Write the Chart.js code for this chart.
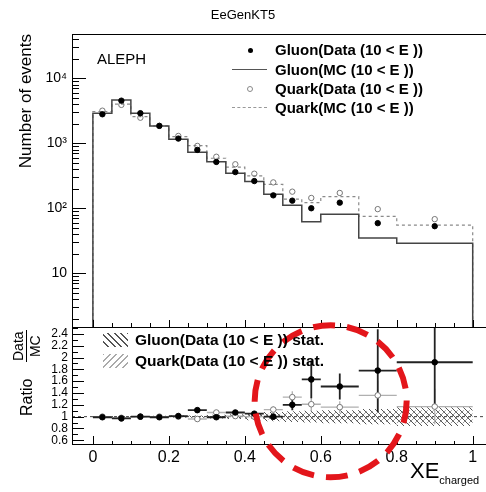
<!DOCTYPE html>
<html>
<head>
<meta charset="utf-8">
<script src="https://cdn.jsdelivr.net/npm/chart.js@4.4.0/dist/chart.umd.min.js"></script>
<style>
  body { margin:0; width:486px; height:492px; background:#fff; position:relative; overflow:hidden;
         font-family:"Liberation Sans", Arial, sans-serif; color:#000; }
  canvas { position:absolute; left:0; }
  #top { top:0; }
  #ratio { top:316px; }
  .t { position:absolute; white-space:nowrap; }
  .leg { position:absolute; left:275px; font-weight:bold; font-size:15px; line-height:18px; white-space:nowrap; }
  .rleg { position:absolute; left:135px; font-weight:bold; font-size:15.5px; line-height:18px; white-space:nowrap; }
  .rot { position:absolute; transform-origin:0 0; transform:rotate(-90deg); white-space:nowrap; }
</style>
</head>
<body>
<canvas id="top" width="486" height="330"></canvas>
<canvas id="ratio" width="486" height="176"></canvas>

<div class="t" style="left:0;width:486px;top:7px;text-align:center;font-size:13px;">EeGenKT5</div>
<div class="t" style="left:97px;top:50px;font-size:15px;">ALEPH</div>
<div class="rot" style="left:16px;top:234px;width:200px;text-align:right;font-size:17px;line-height:20px;">Number of events</div>

<!-- legend, upper panel -->
<div class="t" style="left:247.5px;top:47.5px;width:5px;height:5px;border-radius:50%;background:#000;"></div>
<div class="leg" style="top:41px;">Gluon(Data (10 &lt; E ))</div>
<div class="t" style="left:232px;top:69px;width:35px;border-top:1.5px solid #555;"></div>
<div class="leg" style="top:60.5px;">Gluon(MC (10 &lt; E ))</div>
<div class="t" style="left:247px;top:86px;width:4px;height:4px;border-radius:50%;border:1px solid #888;"></div>
<div class="leg" style="top:79.5px;">Quark(Data (10 &lt; E ))</div>
<div class="t" style="left:232px;top:107px;width:35px;border-top:1px dashed #999;"></div>
<div class="leg" style="top:98.5px;">Quark(MC (10 &lt; E ))</div>

<!-- legend, ratio panel -->
<div class="t" style="left:103px;top:333px;width:25px;height:14px;background:repeating-linear-gradient(45deg, transparent 0 3.5px, #555 3.5px 4.6px);"></div>
<div class="rleg" style="top:331px;">Gluon(Data (10 &lt; E )) stat.</div>
<div class="t" style="left:103px;top:354px;width:25px;height:14px;background:repeating-linear-gradient(-45deg, transparent 0 3.5px, #aaa 3.5px 4.6px);"></div>
<div class="rleg" style="top:352px;">Quark(Data (10 &lt; E )) stat.</div>

<div class="rot" style="left:19px;top:416px;font-size:16px;line-height:16px;">Ratio</div>
<div class="rot" style="left:11px;top:362px;font-size:14px;line-height:14px;text-align:center;">
  <div style="border-bottom:1px solid #000;padding:0 1px 1px 1px;">Data</div><div style="padding-top:1px;">MC</div>
</div>
<div class="t" style="left:410px;top:460px;font-size:22px;line-height:22px;">XE<span style="font-size:11px;position:relative;top:6px;">charged</span></div>

<script>
// bins and values
const binEdges = [0, 0.05, 0.1, 0.15, 0.2, 0.25, 0.3, 0.35, 0.4, 0.45, 0.5, 0.55, 0.6, 0.7, 0.8, 1.0];
const gluonData = [2790, 4520, 2900, 1850, 1180, 790, 516, 360, 262, 158, 131, 100, 122, 59, 53];
const gluonMC   = [2900, 4640, 2900, 1850, 1150, 727, 520, 345, 257, 164, 111, 62, 81, 35, 29];
const quarkData = [3170, 3890, 2470, 1850, 1295, 910, 620, 475, 340, 250, 180, 144, 172, 97, 68];
const quarkMC   = [3080, 4000, 2570, 1850, 1260, 920, 588, 428, 315, 233, 138, 122, 151, 75, 55];

const gluonRatio    = [0.99, 0.97, 1.0, 0.99, 1.01, 1.11, 0.99, 1.07, 1.05, 1.0, 1.2, 1.63, 1.51, 1.78, 1.92];
const gluonRatioErr = [0.02, 0.02, 0.02, 0.02, 0.02, 0.03, 0.03, 0.03, 0.04, 0.05, 0.09, 0.32, 0.22, 0.7, 0.74];
const quarkRatio    = [1.0, 0.98, 1.0, 1.0, 1.0, 0.96, 1.07, 1.01, 1.0, 1.12, 1.33, 1.21, 1.16, 1.36, 1.17];
const quarkRatioErr = [0.01, 0.01, 0.01, 0.02, 0.02, 0.02, 0.03, 0.03, 0.04, 0.05, 0.1, 0.12, 0.1, 0.25, 0.3];
const gluonBand = [0.01, 0.01, 0.01, 0.015, 0.02, 0.02, 0.03, 0.04, 0.06, 0.08, 0.09, 0.1, 0.11, 0.13, 0.16];
const quarkBand = [0.01, 0.01, 0.01, 0.01, 0.015, 0.015, 0.02, 0.03, 0.04, 0.05, 0.06, 0.07, 0.08, 0.09, 0.11];

const xTickLabels = [0, 0.2, 0.4, 0.6, 0.8, 1];
const xMin = -0.055, xMax = 1.035;
const yMin = 1.44, yMax = 47900;
const rMin = 0.52, rMax = 2.5;

Chart.defaults.font.family = '"Liberation Sans", Arial, sans-serif';
Chart.defaults.color = '#000';

const centers = binEdges.slice(0, -1).map((e, i) => (e + binEdges[i + 1]) / 2);
const lastEdge = binEdges[binEdges.length - 1];

function histPoints(vals, base) {
  const pts = [{x: binEdges[0], y: base}];
  vals.forEach((v, i) => pts.push({x: binEdges[i], y: v}));
  pts.push({x: lastEdge, y: vals[vals.length - 1]});
  pts.push({x: lastEdge, y: base});
  return pts;
}
function bandPoints(err, sign) {
  const pts = err.map((e, i) => ({x: binEdges[i], y: 1 + sign * e}));
  pts.push({x: lastEdge, y: 1 + sign * err[err.length - 1]});
  return pts;
}
function errBars(vals, errs) {
  const pts = [];
  vals.forEach((v, i) => {
    const c = centers[i];
    pts.push({x: binEdges[i], y: v}, {x: binEdges[i + 1], y: v}, {x: binEdges[i + 1], y: null});
    pts.push({x: c, y: v - errs[i]}, {x: c, y: v + errs[i]}, {x: c, y: null});
  });
  return pts;
}
function hatch(color, slash) {
  const c = document.createElement('canvas');
  c.width = c.height = 6;
  const g = c.getContext('2d');
  g.strokeStyle = color; g.lineWidth = 1;
  g.beginPath();
  if (slash) { g.moveTo(-1, 7); g.lineTo(7, -1); g.moveTo(-1, 1); g.lineTo(1, -1); g.moveTo(5, 7); g.lineTo(7, 5); }
  else { g.moveTo(-1, -1); g.lineTo(7, 7); g.moveTo(-1, 5); g.lineTo(1, 7); g.moveTo(5, -1); g.lineTo(7, 1); }
  g.stroke();
  return g.createPattern(c, 'repeat');
}
function noPad(s) { s.paddingTop = 0; s.paddingBottom = 0; s.paddingLeft = 0; s.paddingRight = 0; }

// ROOT-like frame with ticks pointing inwards
const frameTicks = {
  id: 'frameTicks',
  afterDraw(chart, args, o) {
    const {ctx, chartArea: a, scales} = chart;
    ctx.save();
    ctx.strokeStyle = '#000';
    ctx.lineWidth = 1;
    ctx.beginPath();
    ctx.moveTo(a.left + 0.5, a.top); ctx.lineTo(a.left + 0.5, a.bottom);
    ctx.moveTo(a.left, a.bottom - 0.5); ctx.lineTo(a.right, a.bottom - 0.5);
    if (o.topLine) { ctx.moveTo(a.left, a.top + 0.5); ctx.lineTo(a.right, a.top + 0.5); }
    for (let i = 0; i <= 20; i++) {
      const px = Math.round(scales.x.getPixelForValue(i * 0.05)) + 0.5;
      const len = i % 4 === 0 ? o.xMajor : o.xMinor;
      ctx.moveTo(px, a.bottom); ctx.lineTo(px, a.bottom - len);
    }
    const y = scales.y;
    if (o.log) {
      for (let e = 0; e <= 4; e++) for (let m = 1; m <= 9; m++) {
        const v = m * Math.pow(10, e);
        if (v < y.min || v > y.max) continue;
        const py = Math.round(y.getPixelForValue(v)) + 0.5;
        ctx.moveTo(a.left, py); ctx.lineTo(a.left + (m === 1 ? o.yMajor : o.yMinor), py);
      }
    } else {
      for (let k = 6; k <= 25; k++) {
        const py = Math.round(y.getPixelForValue(k / 10)) + 0.5;
        ctx.moveTo(a.left, py); ctx.lineTo(a.left + (k % 2 === 0 ? o.yMajor : o.yMinor), py);
      }
    }
    ctx.stroke();
    if (o.ring) {
      // red dashed highlight ring
      const cx = scales.x.getPixelForValue(o.ring.x), cy = y.getPixelForValue(o.ring.y);
      ctx.strokeStyle = '#e3161b';
      ctx.lineWidth = 6;
      ctx.setLineDash([22, 12]);
      ctx.beginPath();
      ctx.arc(cx, cy, o.ring.r, 0, Math.PI * 2);
      ctx.stroke();
    }
    ctx.restore();
  }
};

const sup = {2: '\u00b2', 3: '\u00b3', 4: '\u2074'};
function logLabel(v) {
  const e = Math.log10(v);
  if (Math.abs(e - Math.round(e)) > 1e-6) return '';
  const n = Math.round(e);
  if (n === 1) return '10';
  return sup[n] ? '10' + sup[n] : '';
}

new Chart(document.getElementById('top'), {
  type: 'line',
  data: {
    datasets: [
      {label: 'Gluon(Data)', data: centers.map((c, i) => ({x: c, y: gluonData[i]})), showLine: false,
       pointRadius: 2.7, pointBackgroundColor: '#000', pointBorderColor: '#000', pointBorderWidth: 1, order: 0},
      {label: 'Quark(Data)', data: centers.map((c, i) => ({x: c, y: quarkData[i]})), showLine: false,
       pointRadius: 2.7, pointBackgroundColor: 'rgba(0,0,0,0)', pointBorderColor: '#777', pointBorderWidth: 1, order: 1},
      {label: 'Gluon(MC)', data: histPoints(gluonMC, yMin), stepped: true, borderColor: '#444', borderWidth: 1.5,
       pointRadius: 0, fill: false, order: 2},
      {label: 'Quark(MC)', data: histPoints(quarkMC, yMin), stepped: true, borderColor: '#8a8a8a', borderWidth: 1.2,
       borderDash: [3, 3], pointRadius: 0, fill: false, order: 3}
    ]
  },
  options: {
    responsive: false, animation: false, devicePixelRatio: 1,
    layout: {autoPadding: false, padding: {left: 0, right: 0, top: 34, bottom: 2}},
    plugins: {
      legend: {display: false}, tooltip: {enabled: false},
      frameTicks: {topLine: true, log: true, xMajor: 8, xMinor: 5, yMajor: 14, yMinor: 7}
    },
    scales: {
      x: {type: 'linear', display: false, min: xMin, max: xMax},
      y: {type: 'logarithmic', min: yMin, max: yMax,
          grid: {display: false, drawTicks: false}, border: {display: false},
          ticks: {autoSkip: false, padding: 5, font: {size: 14}, callback: v => logLabel(v)},
          afterFit(s) { s.width = 72; noPad(s); }}
    }
  },
  plugins: [frameTicks]
});

new Chart(document.getElementById('ratio'), {
  type: 'line',
  data: {
    datasets: [
      {label: 'g markers', data: centers.map((c, i) => ({x: c, y: gluonRatio[i]})), showLine: false,
       pointRadius: 2.8, pointBackgroundColor: '#000', pointBorderColor: '#000', order: 0},
      {label: 'q markers', data: centers.map((c, i) => ({x: c, y: quarkRatio[i]})), showLine: false,
       pointRadius: 2.8, pointBackgroundColor: '#fff', pointBorderColor: '#777', pointBorderWidth: 1, order: 1},
      {label: 'g errors', data: errBars(gluonRatio, gluonRatioErr), borderColor: '#222', borderWidth: 1.8,
       pointRadius: 0, spanGaps: false, order: 2},
      {label: 'q errors', data: errBars(quarkRatio, quarkRatioErr), borderColor: '#b0b0b0', borderWidth: 1.3,
       pointRadius: 0, spanGaps: false, order: 3},
      {label: 'unity', data: [{x: xMin, y: 1}, {x: xMax, y: 1}], borderColor: '#444', borderWidth: 1,
       borderDash: [3, 3], pointRadius: 0, order: 4},
      {label: 'g band hi', data: bandPoints(gluonBand, 1), stepped: true, borderWidth: 0, pointRadius: 0, order: 5},
      {label: 'g band lo', data: bandPoints(gluonBand, -1), stepped: true, borderWidth: 0, pointRadius: 0,
       fill: '-1', backgroundColor: hatch('#555', false), order: 5},
      {label: 'q band hi', data: bandPoints(quarkBand, 1), stepped: true, borderWidth: 0, pointRadius: 0, order: 6},
      {label: 'q band lo', data: bandPoints(quarkBand, -1), stepped: true, borderWidth: 0, pointRadius: 0,
       fill: '-1', backgroundColor: hatch('#9a9a9a', true), order: 6}
    ]
  },
  options: {
    responsive: false, animation: false, devicePixelRatio: 1,
    layout: {autoPadding: false, padding: {left: 0, right: 0, top: 12, bottom: 0}},
    plugins: {
      legend: {display: false}, tooltip: {enabled: false},
      frameTicks: {topLine: false, log: false, xMajor: 9, xMinor: 4, yMajor: 12, yMinor: 6,
                   ring: {x: 0.626, y: 1.26, r: 76}}
    },
    scales: {
      x: {type: 'linear', min: xMin, max: xMax,
          grid: {display: false, drawTicks: false}, border: {display: false},
          afterBuildTicks(s) { s.ticks = xTickLabels.map(v => ({value: v})); },
          ticks: {autoSkip: false, maxRotation: 0, padding: 3, font: {size: 16}, callback: v => String(v)},
          afterFit(s) { s.height = 47; noPad(s); }},
      y: {type: 'linear', min: rMin, max: rMax,
          grid: {display: false, drawTicks: false}, border: {display: false},
          ticks: {autoSkip: false, stepSize: 0.2, includeBounds: false, padding: 4, font: {size: 12},
                  callback: v => String(+v.toFixed(2))},
          afterFit(s) { s.width = 72; noPad(s); }}
    }
  },
  plugins: [frameTicks]
});
</script>
</body>
</html>
